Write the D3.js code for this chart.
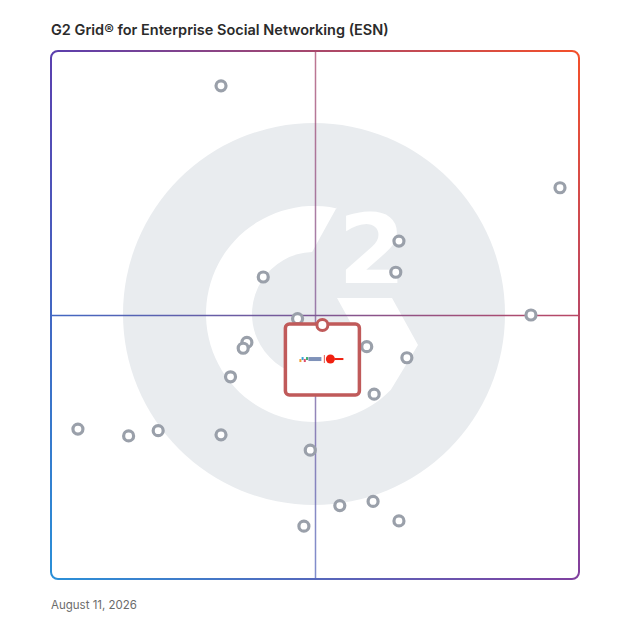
<!DOCTYPE html>
<html>
<head>
<meta charset="utf-8">
<script src="https://cdn.jsdelivr.net/npm/d3@7"></script>
<style>
  body { margin: 0; background: #fff; }
  svg { display: block; }
</style>
</head>
<body>
<script>
var title = "G2 Grid® for Enterprise Social Networking (ESN)";
var dateLabel = "August 11, 2026";

// products on the grid: market presence (x) and satisfaction (y), 0-100
var presence = [32.2, 96.4, 65.9, 65.3, 40.2, 90.9, 46.7, 37.1, 36.4, 59.8, 67.4,
  34.0, 61.2, 5.1, 14.7, 20.3, 32.2, 49.1, 54.7, 61.0, 65.9, 47.9];
var satisfaction = [93.4, 74.1, 64.0, 58.1, 57.2, 50.0, 49.3, 44.8, 43.7, 44.0, 41.9,
  38.3, 35.0, 28.4, 27.1, 28.1, 27.3, 24.4, 13.9, 14.7, 11.0, 10.0];

// the highlighted product
var focusPresence = [51.4];
var focusSatisfaction = [48.1];

var cornerColors = ["#5b3fae", "#f4502a", "#2a90d8", "#8040a0"]; // TL, TR, BL, BR

var points = presence.map(function (d, i) { return { x: d, y: satisfaction[i] }; });
var focus = focusPresence.map(function (d, i) { return { x: d, y: focusSatisfaction[i] }; });

var svg = d3.select("body").append("svg")
  .attr("width", 628)
  .attr("height", 628);

var x = d3.scaleLinear().domain([0, 100]).range([51, 579]);
var y = d3.scaleLinear().domain([0, 100]).range([579, 51]);

var defs = svg.append("defs");

// bilinear frame colour: bottom gradient + top gradient faded out downwards
function hGrad(id, c0, c1) {
  var gr = defs.append("linearGradient").attr("id", id)
    .attr("gradientUnits", "userSpaceOnUse")
    .attr("x1", x(0)).attr("y1", 0).attr("x2", x(100)).attr("y2", 0);
  gr.append("stop").attr("offset", 0).attr("stop-color", c0);
  gr.append("stop").attr("offset", 1).attr("stop-color", c1);
}
hGrad("gTop", cornerColors[0], cornerColors[1]);
hGrad("gBot", cornerColors[2], cornerColors[3]);

var fade = defs.append("linearGradient").attr("id", "fadeV")
  .attr("gradientUnits", "userSpaceOnUse")
  .attr("x1", 0).attr("y1", y(100)).attr("x2", 0).attr("y2", y(0));
fade.append("stop").attr("offset", 0).attr("stop-color", "#fff").attr("stop-opacity", 1);
fade.append("stop").attr("offset", 1).attr("stop-color", "#fff").attr("stop-opacity", 0);

defs.append("mask").attr("id", "mFade")
  .attr("maskUnits", "userSpaceOnUse")
  .attr("x", 0).attr("y", 0).attr("width", 628).attr("height", 628)
  .append("rect")
  .attr("x", 0).attr("y", 0).attr("width", 628).attr("height", 628)
  .attr("fill", "url(#fadeV)");

var mLines = defs.append("mask").attr("id", "mLines")
  .attr("maskUnits", "userSpaceOnUse")
  .attr("x", 0).attr("y", 0).attr("width", 628).attr("height", 628);

mLines.append("rect")
  .attr("x", x(0)).attr("y", y(100))
  .attr("width", x(100) - x(0)).attr("height", y(0) - y(100))
  .attr("rx", 7)
  .attr("fill", "none")
  .attr("stroke", "#fff")
  .attr("stroke-width", 2);

mLines.append("line") // horizontal divider
  .attr("x1", x(0)).attr("x2", x(100))
  .attr("y1", y(50) + 0.5).attr("y2", y(50) + 0.5)
  .attr("stroke", "#fff")
  .attr("stroke-width", 1.6);

mLines.append("line") // vertical divider
  .attr("x1", x(50) + 0.5).attr("x2", x(50) + 0.5)
  .attr("y1", y(100)).attr("y2", y(0))
  .attr("stroke", "#fff")
  .attr("stroke-opacity", 0.75)
  .attr("stroke-width", 1.5);

// G2 watermark
var cx = x(50) - 1, cy = y(50) - 1;
var wm = svg.append("g");

wm.append("circle")
  .attr("cx", cx).attr("cy", cy).attr("r", 191)
  .attr("fill", "#e9ecef");

var deg = Math.PI / 180;
var gp = d3.path();
gp.moveTo(cx + 23, cy - 107);
gp.arc(cx, cy, 108, -77.9 * deg, 44.6 * deg, true);
gp.lineTo(cx + 104, cy + 31);
gp.lineTo(cx + 78, cy - 16);
gp.lineTo(cx + 23, cy - 16);
gp.lineTo(cx + 50, cy + 33);
gp.lineTo(cx + 44, cy + 44);
gp.arc(cx, cy, 62, 45 * deg, 268.2 * deg, false);
gp.closePath();

wm.append("path")
  .attr("d", gp.toString())
  .attr("fill", "#fff");

wm.append("text")
  .attr("x", cx + 58)
  .attr("y", cy - 31)
  .attr("text-anchor", "middle")
  .style("font-family", "DejaVu Sans, sans-serif")
  .style("font-weight", 700)
  .style("font-size", "97px")
  .attr("fill", "#fff")
  .text("2");

// frame + dividers
var frame = svg.append("g").attr("mask", "url(#mLines)");
frame.append("rect")
  .attr("x", 0).attr("y", 0).attr("width", 628).attr("height", 628)
  .attr("fill", "url(#gBot)");
frame.append("rect")
  .attr("x", 0).attr("y", 0).attr("width", 628).attr("height", 628)
  .attr("fill", "url(#gTop)")
  .attr("mask", "url(#mFade)");

// product dots
svg.append("g").selectAll("circle")
  .data(points)
  .enter()
  .append("circle")
  .attr("cx", function (d) { return x(d.x); })
  .attr("cy", function (d) { return y(d.y); })
  .attr("r", 5)
  .attr("fill", "#fff")
  .attr("stroke", "#9aa0aa")
  .attr("stroke-width", 3.2);

// highlighted product card
var card = svg.append("g").selectAll("g")
  .data(focus)
  .enter()
  .append("g")
  .attr("transform", function (d) { return "translate(" + x(d.x) + "," + y(d.y) + ")"; });

card.append("rect")
  .attr("x", -37).attr("y", -1)
  .attr("width", 74).attr("height", 71)
  .attr("rx", 4)
  .attr("fill", "#fff")
  .attr("stroke", "#c05a5a")
  .attr("stroke-width", 3.5);

// tiny logo inside the card
var logo = card.append("g").attr("transform", "translate(0,34)");
logo.selectAll("rect.tile")
  .data(["#f0a030", "#3aa0d8", "#e04a6a", "#40b070"])
  .enter()
  .append("rect")
  .attr("class", "tile")
  .attr("x", function (d, i) { return -23 + i * 2.2; })
  .attr("y", function (d, i) { return i % 2 ? -2 : 0; })
  .attr("width", 2).attr("height", 3)
  .attr("fill", function (d) { return d; });
logo.append("rect")
  .attr("x", -14).attr("y", -2).attr("width", 13).attr("height", 4)
  .attr("fill", "#2a4a8a").attr("opacity", 0.6);
logo.append("rect")
  .attr("x", 1.5).attr("y", -4).attr("width", 0.8).attr("height", 8)
  .attr("fill", "#e03020");
logo.append("circle")
  .attr("cx", 8).attr("cy", 0).attr("r", 4.5)
  .attr("fill", "#f02010");
logo.append("rect")
  .attr("x", 12).attr("y", -1).attr("width", 9).attr("height", 2)
  .attr("fill", "#f02010");

card.append("circle")
  .attr("cx", 0).attr("cy", 0)
  .attr("r", 5.5)
  .attr("fill", "#fff")
  .attr("stroke", "#c05a5a")
  .attr("stroke-width", 3);

// title and date
svg.append("text")
  .attr("x", 51).attr("y", 35)
  .style("font-family", "Inter, sans-serif")
  .style("font-weight", 600)
  .style("font-size", "14.5px")
  .attr("fill", "#2b2b2b")
  .text(title);

svg.append("text")
  .attr("x", 51).attr("y", 609)
  .style("font-family", "Inter, sans-serif")
  .style("font-size", "11.5px")
  .attr("fill", "#6b6b6b")
  .text(dateLabel);
</script>
</body>
</html>
